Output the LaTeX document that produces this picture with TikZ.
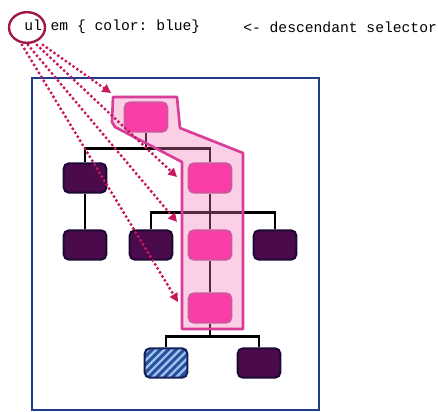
\documentclass[tikz,border=0pt]{standalone}
\usepackage{fontspec}
\setmonofont{Liberation Mono}
\usetikzlibrary{shapes.geometric, arrows.meta, patterns.meta, backgrounds}
\definecolor{hotpink}{HTML}{F93CA8}
\definecolor{pinkedge}{HTML}{D2559E}
\definecolor{plumfill}{HTML}{4A0A4C}
\definecolor{plumedge}{HTML}{1C0A36}
\definecolor{navyedge}{HTML}{14205A}
\definecolor{stripeblue}{HTML}{2E4E9E}
\definecolor{stripelight}{HTML}{9CC8F2}
\definecolor{frameblue}{HTML}{1F3C88}
\definecolor{zonefill}{HTML}{F678B8}
\definecolor{zoneedge}{HTML}{D83E98}
\definecolor{dotred}{HTML}{C8175E}
\definecolor{ringred}{HTML}{A01848}
\tikzstyle{pinkbox}  = [rectangle, rounded corners=4pt, minimum width=32pt, minimum height=22pt, inner sep=0pt, draw=pinkedge, line width=1.6pt, fill=hotpink]
\tikzstyle{plumbox}  = [rectangle, rounded corners=4pt, minimum width=32pt, minimum height=22pt, inner sep=0pt, draw=plumedge, line width=1.6pt, fill=plumfill]
\tikzstyle{hatchbox} = [plumbox, draw=navyedge, preaction={fill=stripeblue}, pattern={Lines[angle=45,distance=4.2pt,line width=1.7pt]}, pattern color=stripelight]
\tikzstyle{branch}   = [line width=2pt, draw=black]
\tikzstyle{zone}     = [fill=zonefill, fill opacity=0.35, draw=zoneedge, line width=2pt, line join=round]
\tikzstyle{ring}     = [ellipse, draw=ringred, line width=1.8pt, minimum width=27pt, minimum height=23pt]
\tikzstyle{selarrow} = [draw=dotred, line width=2.5pt, line cap=round, dash pattern=on 0pt off 3.5pt, -{Triangle[length=6.5pt,width=6.5pt]}]
\tikzstyle{codetext} = [font=\ttfamily\fontsize{11}{13}\selectfont, text=black, inner sep=0pt, anchor=west]

\begin{document}
\begin{tikzpicture}[x=0.75pt, y=-0.75pt]
    \useasboundingbox (0,0) rectangle (438,411);

    \node (code)    [codetext] at (24,27)   {ul em \{ color: blue\}};
    \node (note)    [codetext] at (243,27)  {<- descendant selector};
    \node (ulring)  [ring] at (27,27.5)     {};

    \node (p1) [pinkbox]  at (146,117) {};
    \node (p2) [pinkbox]  at (210,178) {};
    \node (p3) [pinkbox]  at (210,245) {};
    \node (p4) [pinkbox]  at (210,308) {};
    \node (l2) [plumbox]  at (85,178)  {};
    \node (m1) [plumbox]  at (85,245)  {};
    \node (m2) [plumbox]  at (151,245) {};
    \node (m3) [plumbox]  at (275,245) {};
    \node (h1) [hatchbox] at (166,363) {};
    \node (m4) [plumbox]  at (259,363) {};

    \begin{pgfonlayer}{background}
        % page frame
        \draw[line width=2.2pt, draw=frameblue, fill=white] (32,78) rectangle (319,410);

        \draw [branch] (p1.south) -- ++(0,16) -| (l2.north);
        \draw [branch] (p1.south) ++(0,16) -| (p2.north);
        \draw [branch] (l2) -- (m1);
        \draw [branch] (p2) -- (p3);
        \draw [branch] (p2.south) ++(0,19) -| (m2.north);
        \draw [branch] (p2.south) ++(0,19) -| (m3.north);
        \draw [branch] (p3) -- (p4);
        \draw [branch] (p4.south) -- ++(0,13) -| (h1.north);
        \draw [branch] (p4.south) ++(0,13) -| (m4.north);

        % matched elements
        \draw [zone] (113,97) -- (177,97) -- (180,128) -- (243,153) -- (243,329)
            -- (182,329) -- (182,162) -- (115,127) -- (112,122) -- cycle;
    \end{pgfonlayer}

    \coordinate (s1) at (43,45);
    \coordinate (s2) at (37,45);
    \coordinate (s3) at (28,45);
    \coordinate (s4) at (22,45);
    \coordinate (e1) at (111,93);
    \coordinate (e2) at (177,177);
    \coordinate (e3) at (177,222);
    \coordinate (e4) at (178,302);

    \draw [selarrow] (s1) -- (e1);
    \draw [selarrow] (s2) -- (e2);
    \draw [selarrow] (s3) -- (e3);
    \draw [selarrow] (s4) -- (e4);

\end{tikzpicture}
\end{document}
